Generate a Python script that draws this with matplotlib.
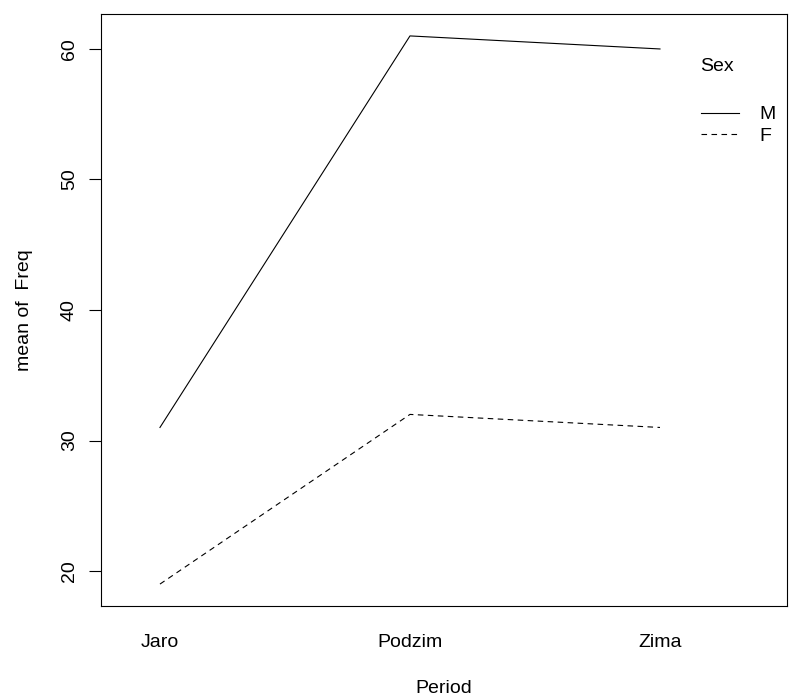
import matplotlib
matplotlib.use('Agg')
import matplotlib.pyplot as plt

plt.rcParams['font.family'] = ['Liberation Sans', 'DejaVu Sans']

# данные
periods = ['Jaro', 'Podzim', 'Zima']
freq_m = [31, 61, 60]
freq_f = [19, 32, 31]
yticks = [20, 30, 40, 50, 60]

fs = 14

fig = plt.figure(figsize=(7.9, 6.96), dpi=100)
ax = fig.add_axes([0.1278, 0.1293, 0.8684, 0.8506])

x = list(range(1, len(periods) + 1))
ax.plot(x, freq_m, color='black', lw=0.8, label='M')
ax.plot(x, freq_f, color='black', lw=0.8, linestyle=(0, (5, 4)), label='F')

ax.set_xlim(0.764, 3.508)
ax.set_ylim(17.32, 62.68)

ax.set_xticks(x)
ax.set_xticklabels(periods, fontsize=fs)
ax.tick_params(axis='x', length=0, pad=20)
ax.set_yticks(yticks)
ax.set_yticklabels([str(v) for v in yticks], fontsize=fs, rotation=90, va='center')
ax.tick_params(axis='y', length=8.6, width=0.8, pad=8)

for s in ax.spines.values():
    s.set_linewidth(0.8)

ax.set_xlabel('Period', fontsize=fs, labelpad=21)
ax.set_ylabel('mean of  Freq', fontsize=fs, labelpad=20)

# легенда как в R
ax.text(0.873, 0.912, 'Sex', transform=ax.transAxes, fontsize=fs,
        ha='left', va='center')
ax.legend(loc='upper left', bbox_to_anchor=(0.874, 0.845), frameon=False,
          fontsize=fs, handlelength=2.0, handletextpad=1.0,
          borderpad=0, borderaxespad=0, labelspacing=0.2)

plt.savefig('out.png', dpi=100)
